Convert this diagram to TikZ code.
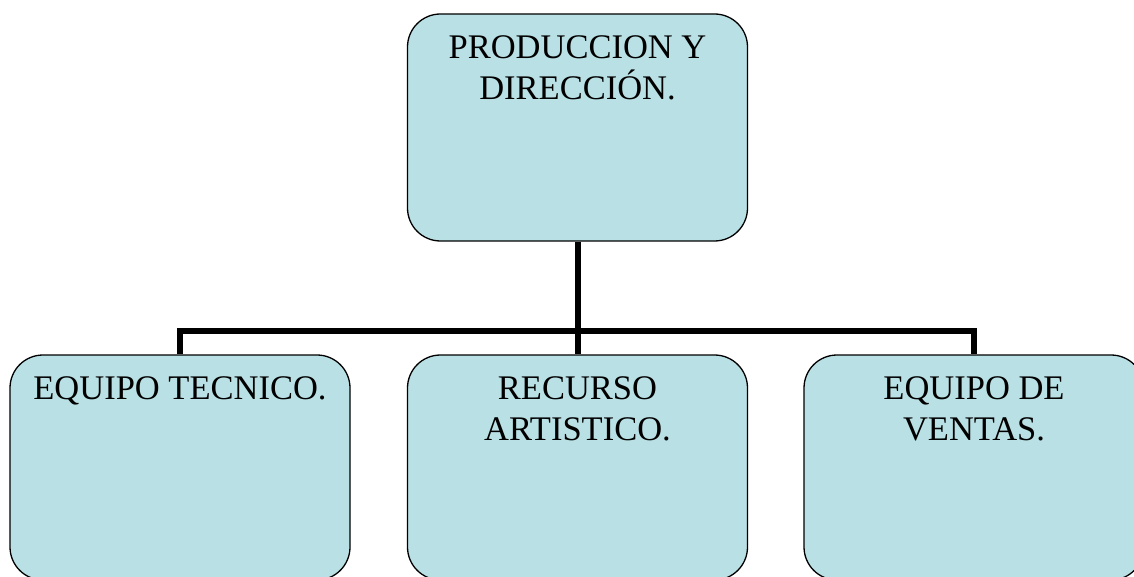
\documentclass[tikz,border=0pt]{standalone}
\usepackage{fontspec}
\setmainfont{Liberation Serif}
\usetikzlibrary{positioning}
\definecolor{boxblue}{RGB}{185,224,228}
\begin{document}
\begin{tikzpicture}[x=1pt,y=-1pt,
  cajon/.style={draw=black,line width=1.3pt,fill=boxblue,rounded corners=33pt,
    minimum width=340pt,inner sep=0pt},
  texto/.style={anchor=north,align=center,inner sep=0pt,yshift=-22pt,
    font=\fontsize{34.5}{41}\selectfont},
  linea/.style={line width=6pt}]
\useasboundingbox (0,0) rectangle (1134,577);

\node[cajon,minimum height=227pt] (dir) at (577.5,127.5) {};
\node[texto] (tdir) at (dir.north) {PRODUCCION Y\\DIRECCIÓN.};

\node[cajon,minimum height=225pt] (tec) at (180,467.5) {};
\node[texto] (ttec) at (tec.north) {EQUIPO TECNICO.};

\node[cajon,minimum height=225pt] (art) at (577.5,467.5) {};
\node[texto] (tart) at (art.north) {RECURSO\\ARTISTICO.};

\node[cajon,minimum height=225pt] (ven) at (974,467.5) {};
\node[texto] (tven) at (ven.north) {EQUIPO DE\\VENTAS.};

\coordinate (barra) at (577.5,331);
\draw[linea] (dir.south) -- (art.north);
\draw[linea] (tec.north) -- (tec.north |- barra) -- (ven.north |- barra) -- (ven.north);
\end{tikzpicture}
\end{document}
